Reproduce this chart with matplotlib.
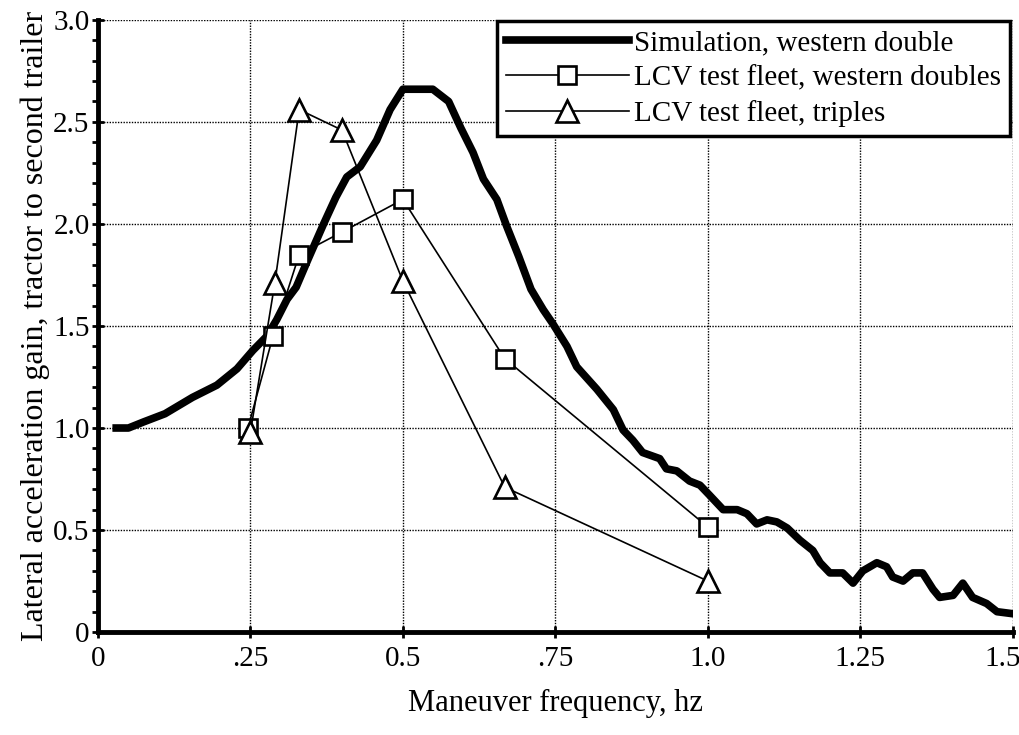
import numpy as np
import matplotlib
matplotlib.use("Agg")
import matplotlib.pyplot as plt
import matplotlib.transforms as mtransforms
from matplotlib.ticker import MultipleLocator

plt.rcParams['font.family'] = ['Liberation Serif', 'DejaVu Serif']

# --- datos ---
sim_x = [0.03, 0.05, 0.075, 0.11, 0.155, 0.195, 0.228, 0.254, 0.277, 0.293,
         0.31, 0.325, 0.345, 0.37, 0.39, 0.408, 0.43, 0.457, 0.479, 0.50,
         0.549, 0.575, 0.595, 0.615, 0.632, 0.654, 0.67, 0.69, 0.71, 0.73,
         0.746, 0.769, 0.785, 0.818, 0.845, 0.861, 0.877, 0.893, 0.921, 0.932,
         0.949, 0.97, 0.987, 1.003, 1.025, 1.048, 1.064, 1.08, 1.097, 1.113,
         1.13, 1.151, 1.172, 1.184, 1.2, 1.221, 1.238, 1.254, 1.277, 1.293,
         1.303, 1.32, 1.336, 1.352, 1.369, 1.38, 1.402, 1.418, 1.434, 1.457,
         1.474, 1.5]
sim_y = [1.0, 1.0, 1.03, 1.07, 1.15, 1.21, 1.29, 1.38, 1.45, 1.53,
         1.63, 1.69, 1.83, 2.0, 2.13, 2.23, 2.28, 2.41, 2.56, 2.66,
         2.66, 2.60, 2.47, 2.35, 2.22, 2.12, 1.99, 1.84, 1.68, 1.58,
         1.51, 1.40, 1.30, 1.19, 1.09, 0.99, 0.94, 0.88, 0.85, 0.80,
         0.79, 0.74, 0.72, 0.67, 0.60, 0.60, 0.58, 0.53, 0.55, 0.54,
         0.51, 0.45, 0.40, 0.34, 0.29, 0.29, 0.24, 0.30, 0.34, 0.32,
         0.27, 0.25, 0.29, 0.29, 0.21, 0.17, 0.18, 0.24, 0.17, 0.14,
         0.10, 0.09]

dobles_x = [0.246, 0.287, 0.33, 0.40, 0.50, 0.667, 1.0]
dobles_y = [1.0, 1.45, 1.85, 1.96, 2.12, 1.34, 0.515]

triples_x = [0.25, 0.29, 0.33, 0.40, 0.50, 0.667, 1.0]
triples_y = [0.98, 1.71, 2.56, 2.46, 1.72, 0.71, 0.25]

xticks = [0, 0.25, 0.5, 0.75, 1.0, 1.25, 1.5]
xtick_labels = ['0', '.25', '0.5', '.75', '1.0', '1.25', '1.5']
yticks = [0, 0.5, 1.0, 1.5, 2.0, 2.5, 3.0]
ytick_labels = ['0', '0.5', '1.0', '1.5', '2.0', '2.5', '3.0']

fig = plt.figure(figsize=(10.2, 7.35), dpi=100)
ax = fig.add_axes([0.096, 0.140, 0.897, 0.833])

ax.plot(sim_x, sim_y, color='black', lw=5.5, solid_joinstyle='round',
        label='Simulation, western double', zorder=3)
ax.plot(dobles_x, dobles_y, color='black', lw=1.2, marker='s', ms=13,
        mfc='white', mec='black', mew=1.9,
        label='LCV test fleet, western doubles', zorder=4)
ax.plot(triples_x, triples_y, color='black', lw=1.2, marker='^', ms=16,
        mfc='white', mec='black', mew=1.9,
        label='LCV test fleet, triples', zorder=4)

ax.set_xlim(0, 1.5)
ax.set_ylim(0, 3.0)
ax.set_xticks(xticks)
ax.set_xticklabels(xtick_labels, fontsize=21)
ax.set_yticks(yticks)
ax.set_yticklabels(ytick_labels, fontsize=21)
ax.yaxis.set_minor_locator(MultipleLocator(0.1))
ax.tick_params(axis='both', which='major', direction='inout', length=8, width=2)
ax.tick_params(axis='y', which='minor', direction='out', length=4, width=2)
ax.tick_params(axis='x', pad=6)
ax.tick_params(axis='y', pad=2)

# la ultima etiqueta del eje x queda un poco a la izquierda, como en el original
last = ax.get_xticklabels()[-1]
last.set_transform(last.get_transform() +
                   mtransforms.ScaledTranslation(-10 / 100, 0, fig.dpi_scale_trans))

ax.grid(True, which='major', color='black', ls=(0, (1, 1)), lw=1.0)
for s in ['top', 'right']:
    ax.spines[s].set_visible(False)
for s in ['left', 'bottom']:
    ax.spines[s].set_linewidth(3.5)

ax.set_xlabel('Maneuver frequency, hz', fontsize=22, labelpad=12)
ax.set_ylabel('Lateral acceleration gain, tractor to second trailer', fontsize=23, labelpad=2)

leg = ax.legend(loc='upper right', fontsize=21, handlelength=4.2,
                fancybox=False, framealpha=1, borderpad=0.3,
                labelspacing=0.3, handletextpad=0.2, borderaxespad=0,
                bbox_to_anchor=(0.997, 0.998))
leg.get_frame().set_edgecolor('black')
leg.get_frame().set_linewidth(2.5)

plt.savefig('out.png', dpi=100)
